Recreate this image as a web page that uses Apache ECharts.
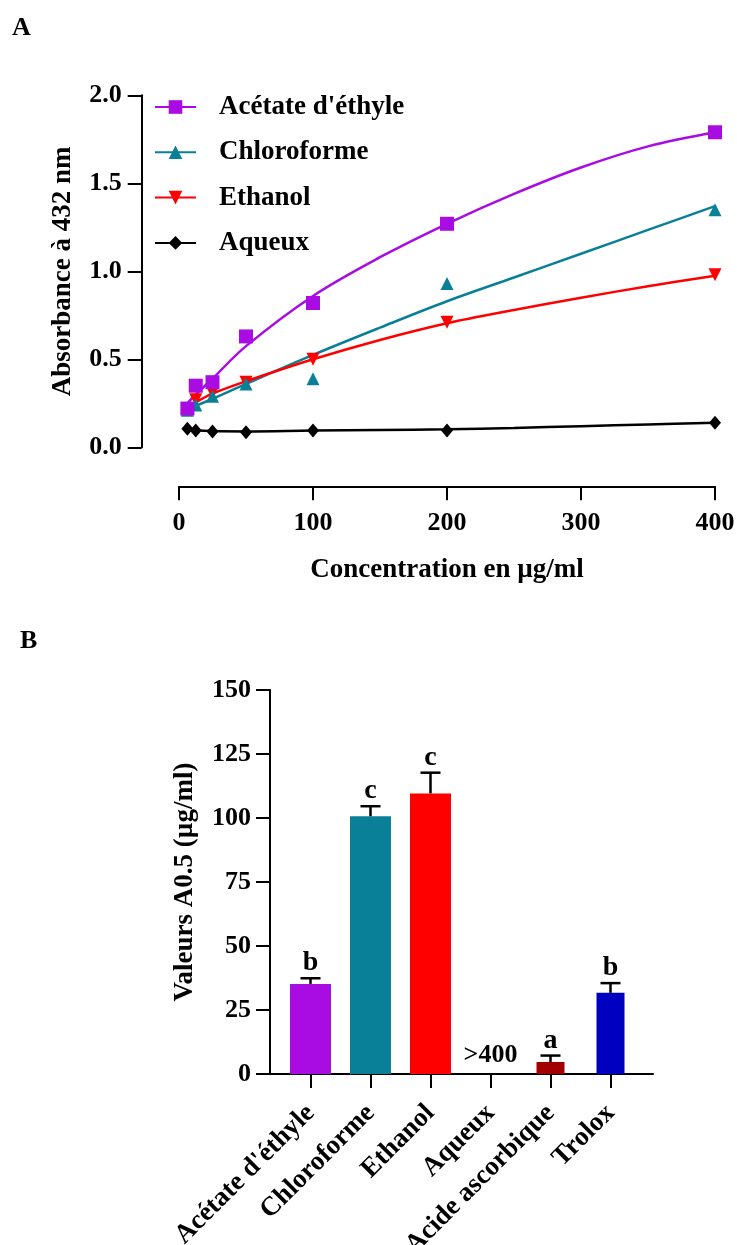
<!DOCTYPE html>
<html><head><meta charset="utf-8">
<script src="https://cdn.jsdelivr.net/npm/echarts@6/dist/echarts.min.js"></script>
<style>html,body{margin:0;padding:0;background:#fff}#c{width:737px;height:1245px}</style>
</head><body><div id="c"></div>
<script>
const FONT = '"Liberation Serif","Times New Roman",serif';

// ---------- Panel A data ----------
const concentrations = [6.25, 12.5, 25, 50, 100, 200, 400];
const acetateAbs = [0.22, 0.35, 0.37, 0.63, 0.82, 1.27, 1.79];
const chloroAbs  = [0.21, 0.24, 0.29, 0.36, 0.39, 0.93, 1.35];
const ethanolAbs = [0.22, 0.27, 0.31, 0.37, 0.50, 0.71, 0.98];
const aqueuxAbs  = [0.105, 0.095, 0.09, 0.085, 0.095, 0.095, 0.14];

const fitConc    = [6.25, 12.5, 25, 50, 100, 150, 200, 250, 300, 350, 400];
const acetateFit = [0.25, 0.30, 0.39, 0.575, 0.86, 1.08, 1.27, 1.44, 1.59, 1.71, 1.79];
const chloroFit  = [0.21, 0.235, 0.275, 0.36, 0.525, 0.68, 0.83, 0.965, 1.10, 1.235, 1.37];
const ethanolFit = [0.22, 0.255, 0.305, 0.375, 0.50, 0.61, 0.705, 0.78, 0.85, 0.915, 0.975];
const aqueuxFit  = [0.105, 0.097, 0.092, 0.09, 0.095, 0.098, 0.102, 0.11, 0.12, 0.13, 0.14];

const seriesNamesA = ["Acétate d'éthyle", "Chloroforme", "Ethanol", "Aqueux"];

// ---------- Panel B data ----------
const categoriesB = ["Acétate d'éthyle", "Chloroforme", "Ethanol", "Aqueux", "Acide ascorbique", "Trolox"];
const meanB    = [35.2, 100.7, 109.6, null, 4.7, 31.7];
const sdB      = [2.2, 3.9, 8.1, null, 2.5, 3.8];
const lettersB = ["b", "c", "c", ">400", "a", "b"];
const extractIdx  = [0, 1, 2, 3];
const standardIdx = [4, 5];

const COL = {
  acetate: '#A90BE3', chloro: '#0A8098', ethanol: '#FF0000', aqueux: '#000000',
  ascorbique: '#A00000', trolox: '#0000C0'
};
const barColors = [COL.acetate, COL.chloro, COL.ethanol, COL.aqueux, COL.ascorbique, COL.trolox];

const zipXY = (xs, ys) => xs.map((x, i) => [x, ys[i]]);

const defsA = [
  { name: seriesNamesA[0], color: COL.acetate, symbol: 'rect', size: 14, rot: 0, pts: acetateAbs, fit: acetateFit },
  { name: seriesNamesA[1], color: COL.chloro, symbol: 'triangle', size: 13, rot: 0, pts: chloroAbs, fit: chloroFit },
  { name: seriesNamesA[2], color: COL.ethanol, symbol: 'triangle', size: 13, rot: 180, pts: ethanolAbs, fit: ethanolFit },
  { name: seriesNamesA[3], color: COL.aqueux, symbol: 'diamond', size: [12, 14], rot: 0, pts: aqueuxAbs, fit: aqueuxFit }
];

const bold = (size) => ({ fontFamily: FONT, fontWeight: 'bold', fontSize: size, color: '#000' });
const axisLineStyle = { color: '#000', width: 2 };

const series = [];
defsA.forEach(d => {
  series.push({
    type: 'line', name: d.name, xAxisIndex: 0, yAxisIndex: 0,
    data: zipXY(fitConc, d.fit), smooth: 0.35, showSymbol: false,
    symbol: d.symbol, symbolSize: d.size, symbolRotate: d.rot,
    lineStyle: { color: d.color, width: 2.5 }, itemStyle: { color: d.color },
    silent: true, z: 2, animation: false
  });
});
[3, 2, 1, 0].forEach(k => {
  const d = defsA[k];
  series.push({
    type: 'scatter', name: d.name, xAxisIndex: 0, yAxisIndex: 0,
    data: zipXY(concentrations, d.pts), symbol: d.symbol, symbolSize: d.size, symbolRotate: d.rot,
    itemStyle: { color: d.color, opacity: 1 }, z: 3, animation: false
  });
});

// Panel B bars
series.push({
  type: 'bar', xAxisIndex: 1, yAxisIndex: 1, barWidth: 41, animation: false,
  data: meanB.map((v, i) => (extractIdx.includes(i) && v != null) ? { value: v, itemStyle: { color: barColors[i] } } : '-')
});
series.push({
  type: 'bar', xAxisIndex: 2, yAxisIndex: 1, barWidth: 28, animation: false,
  data: meanB.map((v, i) => (standardIdx.includes(i) && v != null) ? { value: v, itemStyle: { color: barColors[i] } } : '-')
});
series.push({
  type: 'custom', xAxisIndex: 1, yAxisIndex: 1, z: 5, animation: false,
  data: categoriesB.map((c, i) => [i, meanB[i] == null ? 0 : meanB[i], sdB[i] == null ? 0 : sdB[i]]),
  renderItem: (params, api) => {
    const i = api.value(0), m = api.value(1), e = api.value(2);
    const base = api.coord([i, m]);
    const top = api.coord([i, m + e]);
    const cap = 20;
    const children = [];
    if (e > 0) {
      children.push({ type: 'line', shape: { x1: top[0], y1: base[1], x2: top[0], y2: top[1] }, style: { stroke: '#000', lineWidth: 2.5 } });
      children.push({ type: 'line', shape: { x1: top[0] - cap / 2, y1: top[1], x2: top[0] + cap / 2, y2: top[1] }, style: { stroke: '#000', lineWidth: 2.5 } });
    }
    const txt = lettersB[params.dataIndex];
    children.push({
      type: 'text',
      style: {
        text: txt, x: top[0], y: top[1] - (e > 0 ? 1 : 6), align: 'center', verticalAlign: 'bottom',
        font: 'bold ' + (e > 0 ? 28 : 26) + 'px ' + FONT, fill: '#000'
      }
    });
    return { type: 'group', children };
  }
});

const option = {
  backgroundColor: '#fff',
  animation: false,
  title: [
    { text: 'A', left: 12, top: 15, padding: 0, textStyle: bold(26) },
    { text: 'B', left: 20, top: 628, padding: 0, textStyle: bold(26) }
  ],
  legend: {
    data: seriesNamesA, orient: 'vertical', left: 154, top: 92, padding: 0,
    itemWidth: 41, itemHeight: 17, itemGap: 15.3,
    textStyle: Object.assign(bold(27), { lineHeight: 30, padding: [0, 0, 0, 18] })
  },
  grid: [
    { left: 179, right: 22, top: 95.3, bottom: 797.7, outerBoundsMode: 'none', containLabel: false },
    { left: 280.5, right: 96.5, top: 690, bottom: 171, outerBoundsMode: 'none', containLabel: false },
    { left: 270, right: 84, top: 690, bottom: 171, outerBoundsMode: 'none', containLabel: false }
  ],
  xAxis: [
    {
      gridIndex: 0, type: 'value', min: 0, max: 400, interval: 100, offset: 39,
      axisLine: { show: true, onZero: false, lineStyle: axisLineStyle },
      axisTick: { show: true, length: 14, lineStyle: axisLineStyle },
      axisLabel: Object.assign(bold(26), { margin: 24 }),
      splitLine: { show: false },
      name: 'Concentration en µg/ml', nameLocation: 'middle', nameGap: 70, nameMoveOverlap: false,
      nameTextStyle: bold(27)
    },
    {
      gridIndex: 1, type: 'category', data: categoriesB, position: 'bottom',
      axisLine: { show: false, onZero: false },
      axisTick: { show: true, alignWithLabel: true, length: 14, lineStyle: axisLineStyle },
      axisLabel: Object.assign(bold(27), { rotate: 45, margin: 35, interval: 0 }),
      splitLine: { show: false }
    },
    { gridIndex: 1, type: 'category', data: categoriesB, show: false },
    {
      gridIndex: 2, type: 'value', min: 0, max: 1,
      axisLine: { show: true, onZero: false, lineStyle: axisLineStyle },
      axisTick: { show: false }, axisLabel: { show: false }, splitLine: { show: false }
    }
  ],
  yAxis: [
    {
      gridIndex: 0, type: 'value', min: 0, max: 2, interval: 0.5, offset: 37.3,
      axisLine: { show: true, onZero: false, lineStyle: axisLineStyle },
      axisTick: { show: true, length: 14, lineStyle: axisLineStyle },
      axisLabel: Object.assign(bold(26), { margin: 20, formatter: v => v.toFixed(1) }),
      splitLine: { show: false },
      name: 'Absorbance à 432 nm', nameLocation: 'middle', nameGap: 65, nameMoveOverlap: false,
      nameTextStyle: bold(27)
    },
    {
      gridIndex: 1, type: 'value', min: 0, max: 150, interval: 25, offset: 10.5,
      axisLine: { show: true, onZero: false, lineStyle: axisLineStyle },
      axisTick: { show: true, length: 14, lineStyle: axisLineStyle },
      axisLabel: Object.assign(bold(26), { margin: 19 }),
      splitLine: { show: false },
      name: 'Valeurs A0.5 (µg/ml)', nameLocation: 'middle', nameGap: 71, nameMoveOverlap: false,
      nameTextStyle: bold(27)
    },
    { gridIndex: 2, type: 'value', min: 0, max: 1, show: false }
  ],
  series
};

const chart = echarts.init(document.getElementById('c'), null, { renderer: 'canvas' });
chart.setOption(option);
</script>
</body></html>
